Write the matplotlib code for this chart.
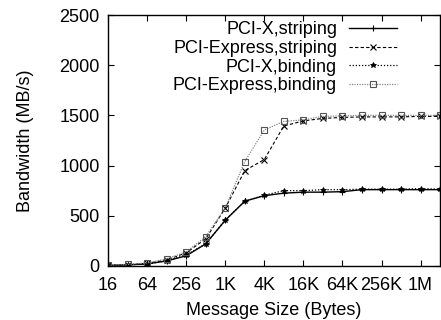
import matplotlib
matplotlib.use("Agg")
import matplotlib.pyplot as plt
import numpy as np

plt.rcParams['font.family'] = ['Liberation Sans', 'DejaVu Sans']

# message sizes 16 B .. 2 MB
sizes = [2**k for k in range(4, 22)]
tick_vals = [16, 64, 256, 1024, 4096, 16384, 65536, 262144, 1048576]
tick_labels = ['16', '64', '256', '1K', '4K', '16K', '64K', '256K', '1M']

pcix_striping = [5, 10, 20, 50, 100, 220, 455, 645, 700, 725, 735, 735, 740, 760, 760, 760, 760, 760]
pcie_striping = [5, 12, 25, 60, 130, 270, 575, 950, 1060, 1395, 1445, 1470, 1480, 1485, 1485, 1485, 1490, 1490]
pcix_binding = [5, 12, 20, 50, 110, 220, 455, 645, 705, 750, 750, 760, 760, 765, 765, 765, 770, 765]
pcie_binding = [5, 15, 30, 70, 140, 290, 580, 1040, 1355, 1440, 1455, 1490, 1495, 1500, 1500, 1500, 1500, 1500]

fig = plt.figure(figsize=(4.41, 3.20), dpi=100)
ax = fig.add_axes([0.245, 0.169, 0.753, 0.784])

ax.plot(sizes, pcix_striping, color='black', ls='-', lw=1.0, marker='+', ms=4, mew=0.8,
        label='PCI-X,striping')
ax.plot(sizes, pcie_striping, color='black', ls=(0, (3, 2)), lw=0.8, marker='x', ms=4, mew=0.8,
        label='PCI-Express,striping')
ax.plot(sizes, pcix_binding, color='black', ls=(0, (1, 1.5)), lw=0.9, marker='*', ms=4, mew=0.6,
        label='PCI-X,binding')
ax.plot(sizes, pcie_binding, color='#888888', ls=(0, (1, 1)), lw=0.9, marker='s', ms=4, mew=0.8,
        mfc='none', mec='#555555', label='PCI-Express,binding')

ax.set_xscale('log', base=2)
ax.set_xlim(16, 2**21)
ax.set_ylim(0, 2500)
ax.set_xticks(tick_vals)
ax.set_xticklabels(tick_labels)
ax.minorticks_off()
ax.set_yticks([0, 500, 1000, 1500, 2000, 2500])

ax.tick_params(direction='in', top=True, right=True, labelsize=13, length=4, width=0.8, pad=6)
ax.tick_params(axis='x', pad=8)
for s in ax.spines.values():
    s.set_linewidth(1.0)

ax.set_xlabel('Message Size (Bytes)', fontsize=13, labelpad=6)
ax.set_ylabel('Bandwidth (MB/s)', fontsize=13, labelpad=18)

leg = ax.legend(loc='upper right', frameon=False, markerfirst=False, fontsize=13,
                handlelength=2.66, handletextpad=0.66, labelspacing=0.1,
                borderpad=0, borderaxespad=0, bbox_to_anchor=(0.870, 0.976))
for t in leg.get_texts():
    t.set_ha('right')
leg._legend_box.align = 'right'

fig.savefig('out.png', dpi=100)
